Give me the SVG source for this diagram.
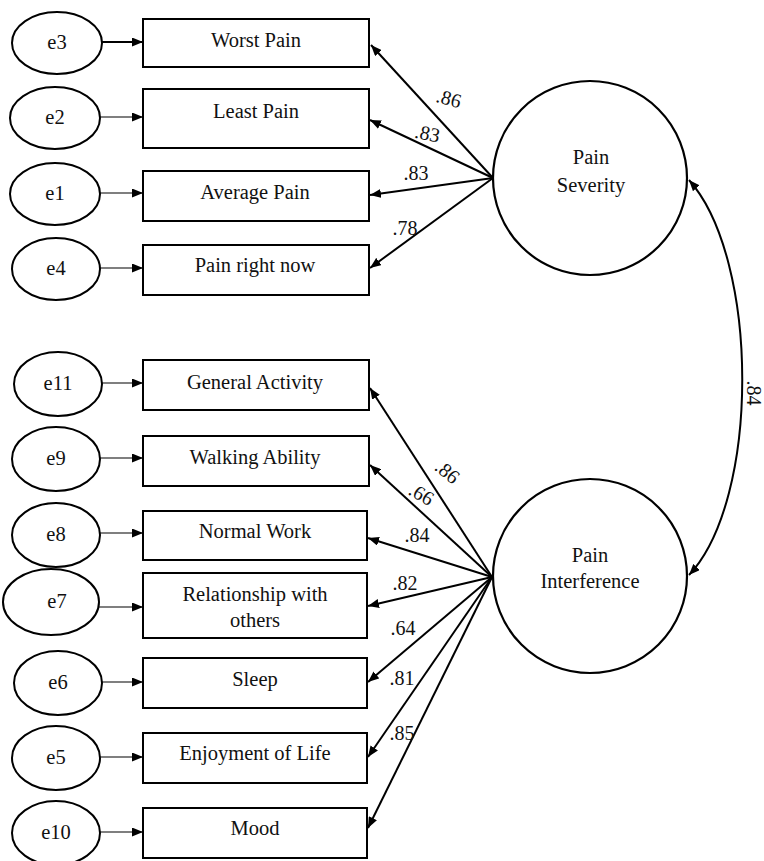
<svg xmlns="http://www.w3.org/2000/svg" width="764" height="861" viewBox="0 0 764 861">
<style>
text{font-family:"Liberation Serif","Times New Roman",serif;font-size:20.5px;fill:#111}
.c{text-anchor:middle}
.box{fill:#fff;stroke:#000;stroke-width:2}
.err{fill:#fff;stroke:#000;stroke-width:2}
.lat{fill:#fff;stroke:#000;stroke-width:2.2}
.ld{stroke:#000;stroke-width:2;fill:none;marker-end:url(#ah)}
.ea{stroke:#000;stroke-width:1.2;fill:none;marker-end:url(#ah2)}
.lb{font-size:20px}
</style>
<defs>
<marker id="ah" markerUnits="userSpaceOnUse" markerWidth="11" markerHeight="9" refX="11" refY="4.5" orient="auto"><path d="M0,0 L11,4.5 L0,9 z" fill="#000"/></marker>
<marker id="ah2" markerUnits="userSpaceOnUse" markerWidth="11" markerHeight="9" refX="11" refY="4.5" orient="auto"><path d="M0,0 L11,4.5 L0,9 z" fill="#000"/></marker>
<marker id="ahd" markerUnits="userSpaceOnUse" markerWidth="11" markerHeight="9" refX="11" refY="4.5" orient="auto-start-reverse"><path d="M0,0 L11,4.5 L0,9 z" fill="#000"/></marker>
</defs>
<rect width="764" height="861" fill="#fff"/>

<g id="connectors">
<line class="ea" x1="102" y1="42" x2="143" y2="42" style="stroke-width:1.8"/>
<line class="ea" x1="100" y1="117" x2="143" y2="117"/>
<line class="ea" x1="100" y1="193" x2="143" y2="193"/>
<line class="ea" x1="100" y1="268" x2="143" y2="268"/>
<line class="ea" x1="102" y1="383" x2="143" y2="383"/>
<line class="ea" x1="100" y1="458" x2="143" y2="458"/>
<line class="ea" x1="100" y1="533" x2="143" y2="533"/>
<line class="ea" x1="99" y1="607" x2="143" y2="607"/>
<line class="ea" x1="102" y1="682" x2="143" y2="682"/>
<line class="ea" x1="100" y1="757" x2="143" y2="757"/>
<line class="ea" x1="100" y1="832" x2="143" y2="832"/>

<line class="ld" x1="493" y1="178" x2="371" y2="45"/>
<line class="ld" x1="493" y1="178" x2="370" y2="120"/>
<line class="ld" x1="493" y1="178" x2="370" y2="195"/>
<line class="ld" x1="493" y1="178" x2="370" y2="268"/>

<line class="ld" x1="492" y1="577" x2="370" y2="388"/>
<line class="ld" x1="492" y1="577" x2="370" y2="465"/>
<line class="ld" x1="492" y1="577" x2="368" y2="538"/>
<line class="ld" x1="492" y1="577" x2="368" y2="606"/>
<line class="ld" x1="492" y1="577" x2="368" y2="682"/>
<line class="ld" x1="492" y1="577" x2="368" y2="757"/>
<line class="ld" x1="492" y1="577" x2="368" y2="828"/>

<path d="M689,180 C760,260 760,500 689,575" stroke="#000" stroke-width="2" fill="none" marker-start="url(#ahd)" marker-end="url(#ahd)"/>

<text class="lb c" transform="translate(447,105) rotate(15)">.86</text>
<text class="lb c" transform="translate(426,140) rotate(12)">.83</text>
<text class="lb c" x="416" y="180">.83</text>
<text class="lb c" x="405" y="235">.78</text>

<text class="lb c" transform="translate(443,477) rotate(40)">.86</text>
<text class="lb c" transform="translate(418,500) rotate(30)">.66</text>
<text class="lb c" x="417" y="542">.84</text>
<text class="lb c" x="405" y="590">.82</text>
<text class="lb c" x="403" y="635">.64</text>
<text class="lb c" x="402" y="685">.81</text>
<text class="lb c" x="402" y="740">.85</text>
<text class="lb c" transform="translate(747,393) rotate(90)">.84</text>
</g>

<g id="e3"><ellipse class="err" cx="57" cy="43" rx="45" ry="31"/><text class="c" x="57" y="49">e3</text></g>
<g id="e2"><ellipse class="err" cx="55" cy="118" rx="45" ry="31"/><text class="c" x="55" y="124">e2</text></g>
<g id="e1"><ellipse class="err" cx="55" cy="194" rx="45" ry="31"/><text class="c" x="55" y="200">e1</text></g>
<g id="e4"><ellipse class="err" cx="56" cy="269" rx="44" ry="31"/><text class="c" x="56" y="275">e4</text></g>
<g id="e11"><ellipse class="err" cx="58" cy="384" rx="44" ry="32"/><text class="c" x="58" y="390">e11</text></g>
<g id="e9"><ellipse class="err" cx="56" cy="459" rx="44" ry="32"/><text class="c" x="56" y="465">e9</text></g>
<g id="e8"><ellipse class="err" cx="56" cy="535" rx="44" ry="32"/><text class="c" x="56" y="541">e8</text></g>
<g id="e7"><ellipse class="err" cx="51" cy="602" rx="48" ry="33"/><text class="c" x="57" y="608">e7</text></g>
<g id="e6"><ellipse class="err" cx="58" cy="683" rx="44" ry="32"/><text class="c" x="58" y="689">e6</text></g>
<g id="e5"><ellipse class="err" cx="56" cy="758" rx="44" ry="32"/><text class="c" x="56" y="764">e5</text></g>
<g id="e10"><ellipse class="err" cx="56" cy="833" rx="44" ry="32"/><text class="c" x="56" y="839">e10</text></g>

<g id="worst"><rect class="box" x="143" y="19" width="226" height="48"/><text class="c" x="256" y="47">Worst Pain</text></g>
<g id="least"><rect class="box" x="143" y="89" width="226" height="59"/><text class="c" x="256" y="118">Least Pain</text></g>
<g id="average"><rect class="box" x="143" y="171" width="226" height="50"/><text class="c" x="255" y="199">Average Pain</text></g>
<g id="now"><rect class="box" x="143" y="245" width="226" height="50"/><text class="c" x="255" y="272">Pain right now</text></g>

<g id="general"><rect class="box" x="143" y="360" width="226" height="50"/><text class="c" x="255" y="389">General Activity</text></g>
<g id="walking"><rect class="box" x="143" y="436" width="226" height="50"/><text class="c" x="255" y="464">Walking Ability</text></g>
<g id="work"><rect class="box" x="143" y="511" width="224" height="49"/><text class="c" x="255" y="538">Normal Work</text></g>
<g id="relationship"><rect class="box" x="143" y="573" width="224" height="65"/><text class="c" x="255" y="601">Relationship with</text><text class="c" x="255" y="627">others</text></g>
<g id="sleep"><rect class="box" x="143" y="658" width="224" height="50"/><text class="c" x="255" y="686">Sleep</text></g>
<g id="enjoyment"><rect class="box" x="143" y="733" width="224" height="50"/><text class="c" x="255" y="760">Enjoyment of Life</text></g>
<g id="mood"><rect class="box" x="143" y="808" width="224" height="50"/><text class="c" x="255" y="835">Mood</text></g>

<g id="severity"><circle class="lat" cx="590" cy="178" r="97"/><text class="c" x="591" y="164">Pain</text><text class="c" x="591" y="192">Severity</text></g>
<g id="interference"><circle class="lat" cx="590" cy="576" r="97"/><text class="c" x="590" y="562">Pain</text><text class="c" x="590" y="588">Interference</text></g>
</svg>
